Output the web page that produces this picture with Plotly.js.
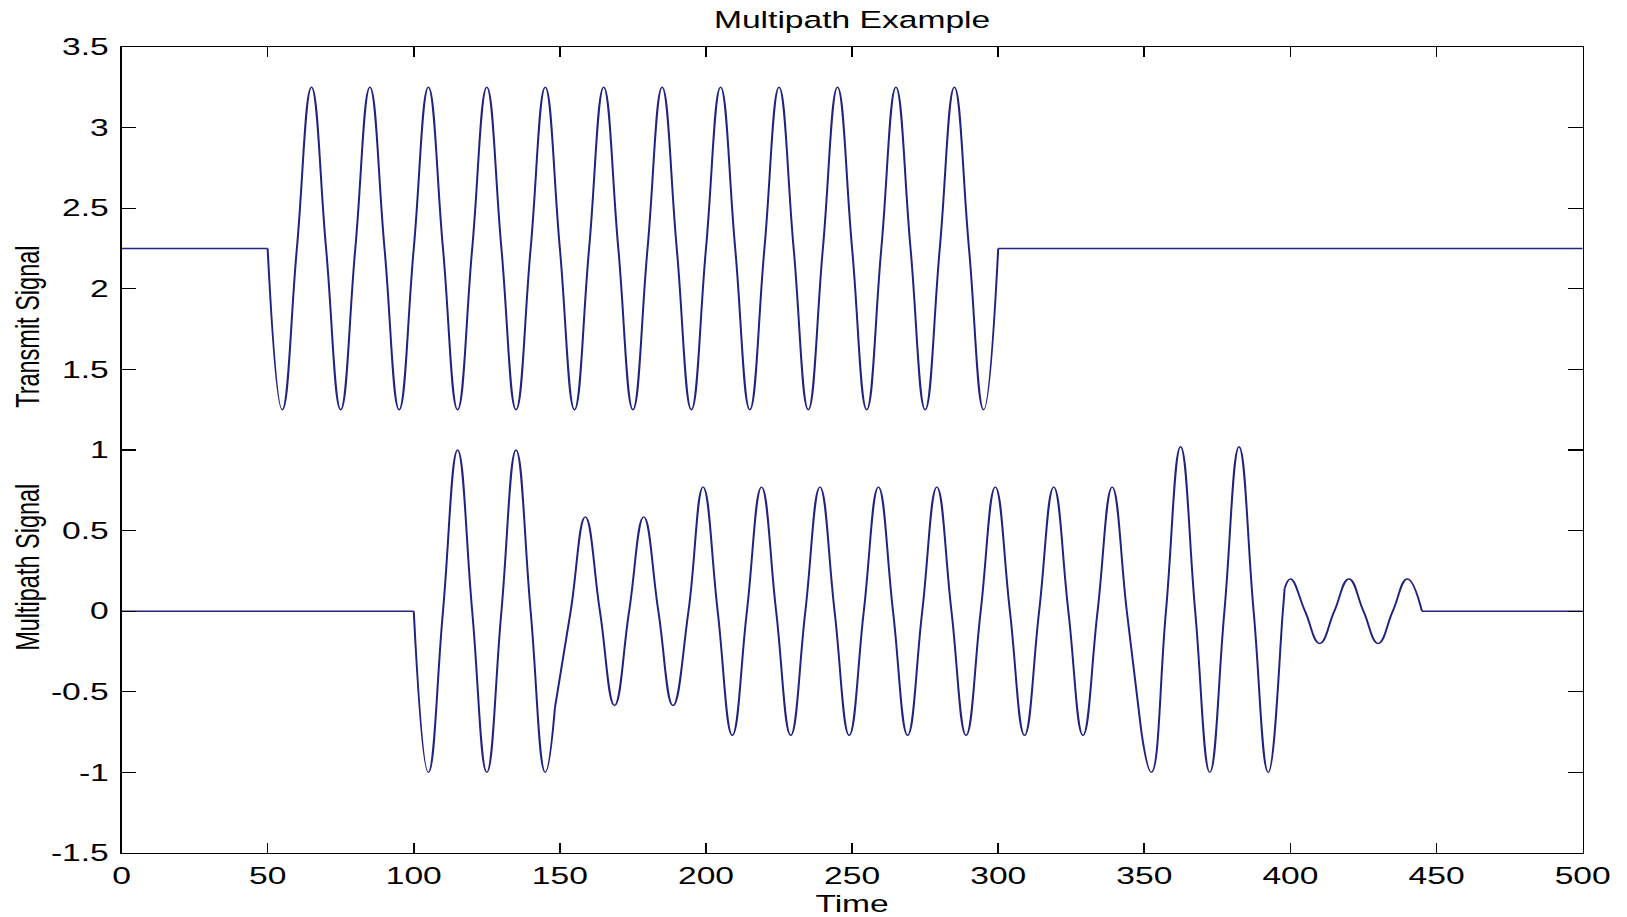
<!DOCTYPE html>
<html>
<head>
<meta charset="utf-8">
<script src="https://cdn.plot.ly/plotly-3.0.1.min.js"></script>
<style>
  html, body { margin: 0; padding: 0; background: #fff; overflow: hidden; }
  #frame { width: 1627px; height: 917px; overflow: hidden; }
  /* the figure is laid out narrow and widened horizontally, like the stretched original export */
  #chart { width: 1138px; height: 917px; transform: scaleX(1.4297); transform-origin: 0 0; }
</style>
</head>
<body>
<div id="frame"><div id="chart"></div></div>
<script>
// Transmitted burst: flat at 2.25, oscillating between 1.25 and 3.25 from t=50 to t=300
const txTime = [0, 50,
  55, 60, 65, 70, 75, 80, 85, 90, 95, 100, 105, 110, 115, 120, 125, 130, 135, 140, 145, 150,
  155, 160, 165, 170, 175, 180, 185, 190, 195, 200, 205, 210, 215, 220, 225, 230, 235, 240,
  245, 250, 255, 260, 265, 270, 275, 280, 285, 290, 295, 300,
  500];
const txValue = [2.25, 2.25,
  1.25, 2.25, 3.25, 2.25,
  1.25, 2.25, 3.25, 2.25,
  1.25, 2.25, 3.25, 2.25,
  1.25, 2.25, 3.25, 2.25,
  1.25, 2.25, 3.25, 2.25,
  1.25, 2.25, 3.25, 2.25,
  1.25, 2.25, 3.25, 2.25,
  1.25, 2.25, 3.25, 2.25,
  1.25, 2.25, 3.25, 2.25,
  1.25, 2.25, 3.25, 2.25,
  1.25, 2.25, 3.25, 2.25,
  1.25, 2.25, 3.25, 2.25,
  1.25, 2.25,
  2.25];
// Times where the transmit trace has a sharp corner
const txCorners = [50, 300];

// Received multipath signal: peaks, troughs and zero crossings
const mpTime = [0, 100,
  105, 110, 115, 120, 125, 130, 135, 140, 145, 148.3,
  153.7, 158.7, 163.7, 168.7, 173.7, 178.7, 183.7, 188.7, 194,
  199, 204, 209, 214, 219, 224, 229, 234, 239, 244, 249, 254, 259, 264, 269, 274,
  279, 284, 289, 294, 299, 304, 309, 314, 319, 324, 329, 334, 339, 344, 349,
  352.4, 357.4, 362.4, 367.4, 372.4, 377.4, 382.4, 387.4, 392.4, 397.4, 398,
  400, 405, 410, 415, 420, 425, 430, 435, 440, 445,
  500];
const mpValue = [0, 0,
  -1, 0, 1, 0, -1, 0, 1, 0, -1, -0.6,
  0, 0.585, 0, -0.585, 0, 0.585, 0, -0.585, 0,
  0.77, 0, -0.77, 0,
  0.77, 0, -0.77, 0,
  0.77, 0, -0.77, 0,
  0.77, 0, -0.77, 0,
  0.77, 0, -0.77, 0,
  0.77, 0, -0.77, 0,
  0.77, 0, -0.77, 0,
  0.77, 0, -0.75,
  -1.0, 0, 1.02, 0, -1.0, 0, 1.02, 0, -1.0, 0, 0.14,
  0.2, 0, -0.2, 0, 0.2, 0, -0.2, 0, 0.2, 0,
  0];
// Times where a propagation path starts or stops (corners in the trace)
const mpCorners = [100, 148.3, 349, 398, 445];

const xTickVals = [0, 50, 100, 150, 200, 250, 300, 350, 400, 450, 500];
const xTickText = ['0', '50', '100', '150', '200', '250', '300', '350', '400', '450', '500'];
const yTickVals = [-1.5, -1, -0.5, 0, 0.5, 1, 1.5, 2, 2.5, 3, 3.5];
const yTickText = ['-1.5', '-1', '-0.5', '0', '0.5', '1', '1.5', '2', '2.5', '3', '3.5'];

const LINE_COLOR = '#23237f';
const FONT = 'Liberation Sans, Arial, Helvetica, sans-serif';

// Cut a series at its corner times so each smooth stretch is drawn as its own spline
function splitAtCorners(t, v, corners) {
  const parts = [];
  let cur = { x: [], y: [] };
  for (let i = 0; i < t.length; i++) {
    cur.x.push(t[i]);
    cur.y.push(v[i]);
    if (i > 0 && i < t.length - 1 && corners.includes(t[i])) {
      parts.push(cur);
      cur = { x: [t[i]], y: [v[i]] };
    }
  }
  parts.push(cur);
  return parts;
}

function toTraces(parts, name) {
  return parts.map(p => ({
    x: p.x, y: p.y, name: name,
    type: 'scatter', mode: 'lines',
    line: { color: LINE_COLOR, width: 1.4, shape: 'spline', smoothing: 1.3 },
    showlegend: false, hoverinfo: 'skip'
  }));
}

const traces = [
  ...toTraces(splitAtCorners(txTime, txValue, txCorners), 'Transmit Signal'),
  ...toTraces(splitAtCorners(mpTime, mpValue, mpCorners), 'Multipath Signal')
];

const axisCommon = {
  showgrid: false, zeroline: false,
  showline: true, linecolor: '#000', linewidth: 1.2,
  mirror: 'ticks', ticks: 'inside', ticklen: 10, tickwidth: 1.2, tickcolor: '#000',
  tickfont: { family: FONT, size: 23.5, color: '#000' },
  fixedrange: true
};

const layout = {
  width: 1138, height: 917,
  margin: { l: 85, r: 31, t: 47, b: 64 },
  paper_bgcolor: '#fff', plot_bgcolor: '#fff',
  font: { family: FONT, size: 23.5, color: '#000' },
  title: {
    text: 'Multipath Example',
    font: { family: FONT, size: 23.5, color: '#000' },
    x: 0.5, xref: 'paper', xanchor: 'center',
    y: 1 - 20 / 917, yref: 'container', yanchor: 'middle'
  },
  xaxis: Object.assign({}, axisCommon, {
    range: [0, 500],
    tickmode: 'array', tickvals: xTickVals, ticktext: xTickText,
    ticklabelstandoff: 2,
    title: { text: 'Time', font: { family: FONT, size: 23.5, color: '#000' }, standoff: 7 }
  }),
  yaxis: Object.assign({}, axisCommon, {
    range: [-1.5, 3.5],
    tickmode: 'array', tickvals: yTickVals, ticktext: yTickText,
    ticklabelstandoff: 3
  }),
  annotations: [
    { text: 'Transmit Signal', textangle: -90, showarrow: false,
      xref: 'paper', yref: 'paper', x: -0.0644, y: 0.653,
      xanchor: 'center', yanchor: 'middle',
      font: { family: FONT, size: 23.5, color: '#000' } },
    { text: 'Multipath Signal', textangle: -90, showarrow: false,
      xref: 'paper', yref: 'paper', x: -0.0644, y: 0.354,
      xanchor: 'center', yanchor: 'middle',
      font: { family: FONT, size: 23.5, color: '#000' } }
  ]
};

Plotly.newPlot('chart', traces, layout, { staticPlot: true, displayModeBar: false });
</script>
</body>
</html>
